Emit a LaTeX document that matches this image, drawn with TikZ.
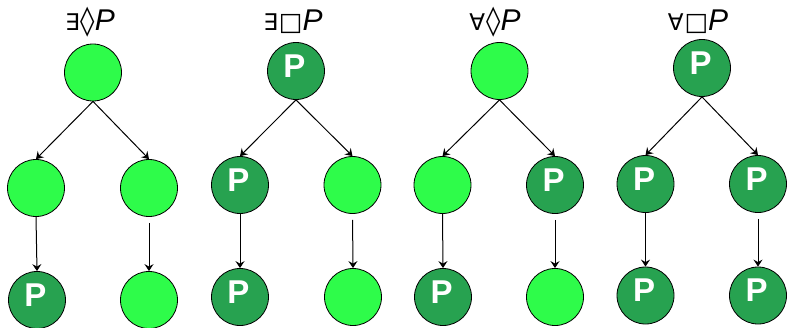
\documentclass[tikz,border=0pt]{standalone}
\usepackage{fontspec}
\setmainfont{Liberation Sans}
\newfontfamily\symfont{DejaVu Sans}
\usetikzlibrary{arrows.meta}
\definecolor{lightgreen}{RGB}{46,252,74}
\definecolor{darkgreen}{RGB}{39,162,80}
\tikzset{
  world/.style={circle, draw=black, line width=0.8pt, minimum size=57pt, inner sep=0pt},
  lt/.style={world, fill=lightgreen},
  dk/.style={world, fill=darkgreen,
    label={[text=white, font=\fontsize{33}{33}\selectfont\bfseries, yshift=5pt, xshift=-1.5pt]center:P}},
  link/.style={line width=1pt, -{Stealth[length=7pt, width=9pt, inset=2.5pt]}},
  title/.style={font=\fontsize{30}{32}\selectfont, anchor=base, inner sep=0pt},
}
% quantifier and modal symbols of the headings
\newcommand{\qsym}[1]{{\symfont\fontsize{23}{30}\selectfont #1}\hspace{1pt}}
\newcommand{\msym}[1]{{\symfont\fontsize{29}{30}\selectfont #1}}
\newcommand{\bsym}[1]{{\symfont\fontsize{25}{30}\selectfont #1}}
\begin{document}
\begin{tikzpicture}[x=1pt, y=-1pt]
\useasboundingbox (0,0) rectangle (787,327);

% tree 1: exists diamond P
\node[title] (t1) at (90,30) {\qsym{∃}\msym{◊}\textit{P}};
\node[lt] (a0) at (93,72.5) {};
\node[lt] (a1) at (36,188) {};
\node[lt] (a2) at (149,188) {};
\node[dk] (a3) at (37,300) {};
\node[lt] (a4) at (149,300) {};
\draw[link] (a0.south) -- (a1.north);
\draw[link] (a0.south) -- (a2.north);
\draw[link] (a1.south) -- (a3.north);
\draw[link, shorten <=6pt] (a2.south) -- (a4.north);

% tree 2: exists box P
\node[title] (t2) at (293,30) {\qsym{∃}\bsym{□}\textit{P}};
\node[dk] (b0) at (296,71) {};
\node[dk] (b1) at (240,185) {};
\node[lt] (b2) at (352.5,185) {};
\node[dk] (b3) at (240,297) {};
\node[lt] (b4) at (353,297) {};
\draw[link] (b0.south) -- (b1.north);
\draw[link] (b0.south) -- (b2.north);
\draw[link] (b1.south) -- (b3.north);
\draw[link, shorten <=6pt] (b2.south) -- (b4.north);

% tree 3: forall diamond P
\node[title] (t3) at (495,30) {\qsym{∀}\msym{◊}\textit{P}};
\node[lt] (c0) at (499.5,71) {};
\node[lt] (c1) at (442.5,185) {};
\node[dk] (c2) at (555,185) {};
\node[dk] (c3) at (443,297) {};
\node[lt] (c4) at (555,297) {};
\draw[link] (c0.south) -- (c1.north);
\draw[link] (c0.south) -- (c2.north);
\draw[link] (c1.south) -- (c3.north);
\draw[link, shorten <=6pt] (c2.south) -- (c4.north);

% tree 4: forall box P
\node[title] (t4) at (698,30) {\qsym{∀}\bsym{□}\textit{P}};
\node[dk] (d0) at (702,68) {};
\node[dk] (d1) at (645.5,184) {};
\node[dk] (d2) at (758,184) {};
\node[dk] (d3) at (645.5,295.5) {};
\node[dk] (d4) at (758,295.5) {};
\draw[link] (d0.south) -- (d1.north);
\draw[link] (d0.south) -- (d2.north);
\draw[link] (d1.south) -- (d3.north);
\draw[link, shorten <=6pt] (d2.south) -- (d4.north);
\end{tikzpicture}
\end{document}
